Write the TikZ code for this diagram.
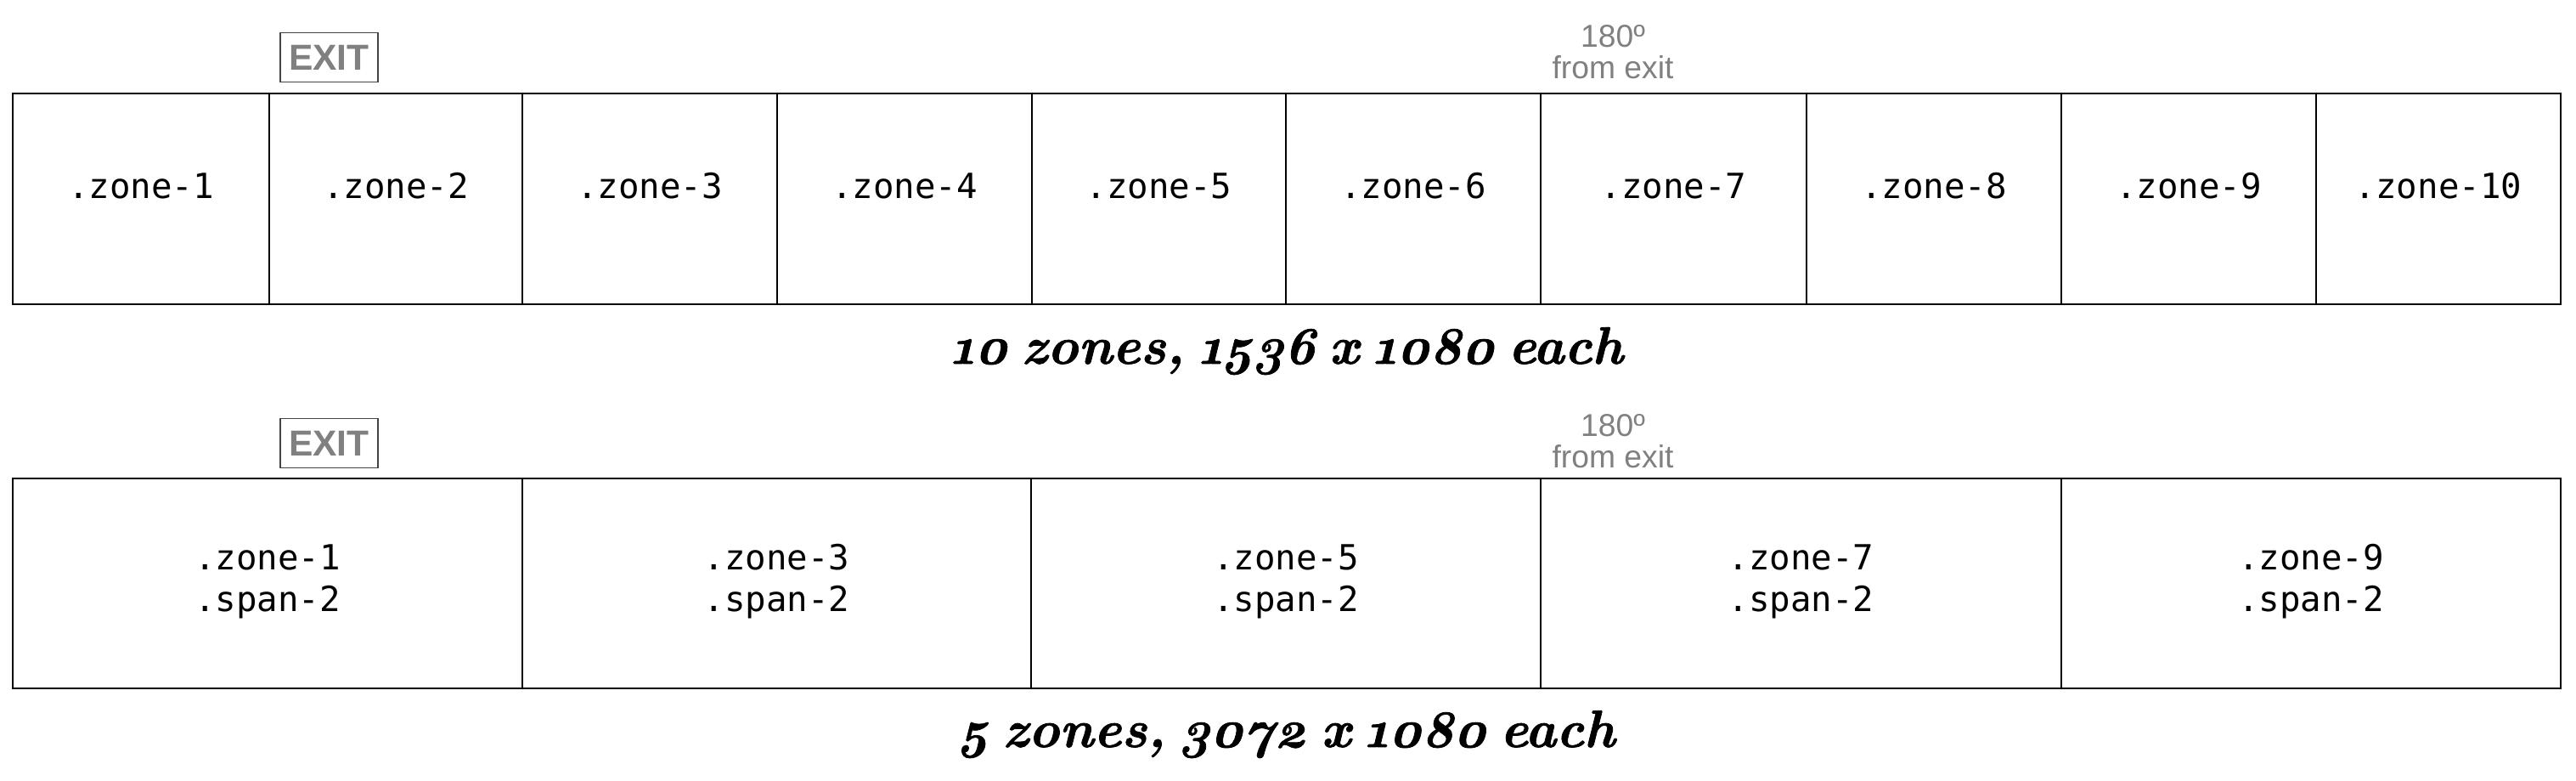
\documentclass[tikz,border=0pt]{standalone}
\usepackage{fontspec}
\newfontfamily\zonefont{DejaVu Sans Mono}
\newfontfamily\signfont{Liberation Sans}
\newfontfamily\headfont[Numbers=OldStyle, BoldItalicFeatures={FakeBold=1.2}]{Latin Modern Roman}
\definecolor{signgray}{HTML}{808080}
\definecolor{signline}{HTML}{444444}

\begin{document}
\begin{tikzpicture}
    [cell/.style={draw=black, line width=0.55pt},
    zone/.style={inner sep=0pt, anchor=base, font=\zonefont\fontsize{11.6}{13.94}\selectfont},
    span/.style={inner sep=0pt, align=center, font=\zonefont\fontsize{11.6}{13.94}\selectfont},
    exitsign/.style={draw=signline, line width=0.55pt, inner sep=0pt, minimum width=1.15cm, minimum height=0.58cm,
        text=signgray, font=\signfont\bfseries\fontsize{12.1}{14}\selectfont},
    turn/.style={inner sep=0pt, align=center, text=signgray, font=\signfont\fontsize{10.6}{10.5}\selectfont},
    heading/.style={inner sep=0pt, anchor=base, font={\headfont\bfseries\itshape\fontsize{17.6}{20}\selectfont\spaceskip=0.26em\relax}}]

    \useasboundingbox (0,0) rectangle (30.33,-9.19);

    % 10 zones row
    \draw[cell] (0.15,-1.10) rectangle (3.17,-3.58);
    \draw[cell] (3.17,-1.10) rectangle (6.15,-3.58);
    \draw[cell] (6.15,-1.10) rectangle (9.15,-3.58);
    \draw[cell] (9.15,-1.10) rectangle (12.15,-3.58);
    \draw[cell] (12.15,-1.10) rectangle (15.14,-3.58);
    \draw[cell] (15.14,-1.10) rectangle (18.14,-3.58);
    \draw[cell] (18.14,-1.10) rectangle (21.27,-3.58);
    \draw[cell] (21.27,-1.10) rectangle (24.27,-3.58);
    \draw[cell] (24.27,-1.10) rectangle (27.27,-3.58);
    \draw[cell] (27.27,-1.10) rectangle (30.15,-3.58);

    \node[zone] (z1) at (1.66,-2.34) {.zone-1};
    \node[zone] (z2) at (4.66,-2.34) {.zone-2};
    \node[zone] (z3) at (7.65,-2.34) {.zone-3};
    \node[zone] (z4) at (10.65,-2.34) {.zone-4};
    \node[zone] (z5) at (13.645,-2.34) {.zone-5};
    \node[zone] (z6) at (16.64,-2.34) {.zone-6};
    \node[zone] (z7) at (19.705,-2.34) {.zone-7};
    \node[zone] (z8) at (22.77,-2.34) {.zone-8};
    \node[zone] (z9) at (25.77,-2.34) {.zone-9};
    \node[zone] (z10) at (28.71,-2.34) {.zone-10};

    \node[exitsign] (exitA) at (3.875,-0.675) {EXIT};
    \node[turn] (turnA) at (18.99,-0.61) {180º\\from exit};
    \node[heading] (headA) at (15.15,-4.28) {10 zones, 1536 x 1080 each};

    % 5 zones row
    \draw[cell] (0.15,-5.63) rectangle (6.15,-8.10);
    \draw[cell] (6.15,-5.63) rectangle (12.14,-8.10);
    \draw[cell] (12.14,-5.63) rectangle (18.14,-8.10);
    \draw[cell] (18.14,-5.63) rectangle (24.27,-8.10);
    \draw[cell] (24.27,-5.63) rectangle (30.15,-8.10);

    \node[span] (s1) at (3.15,-6.84) {.zone-1\\.span-2};
    \node[span] (s3) at (9.145,-6.84) {.zone-3\\.span-2};
    \node[span] (s5) at (15.14,-6.84) {.zone-5\\.span-2};
    \node[span] (s7) at (21.205,-6.84) {.zone-7\\.span-2};
    \node[span] (s9) at (27.21,-6.84) {.zone-9\\.span-2};

    \node[exitsign] (exitB) at (3.875,-5.215) {EXIT};
    \node[turn] (turnB) at (18.99,-5.19) {180º\\from exit};
    \node[heading] (headB) at (15.15,-8.79) {5 zones, 3072 x 1080 each};

\end{tikzpicture}
\end{document}
